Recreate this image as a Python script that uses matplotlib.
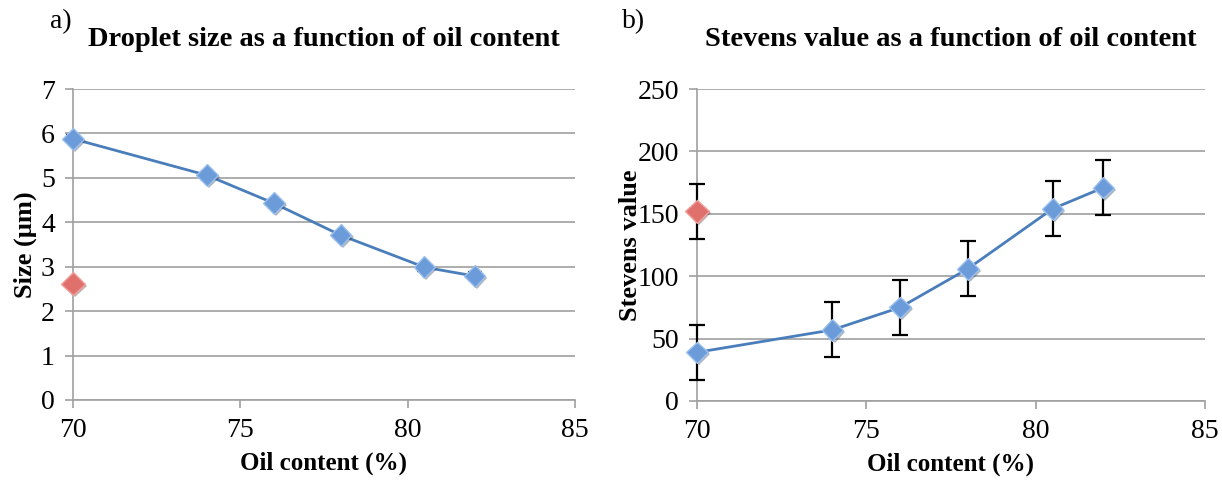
import matplotlib.pyplot as plt
import matplotlib.patheffects as pe

# oil content (%) for the measured series
oil = [70, 74, 76, 78, 80.5, 82]

# a) droplet size (um)
size = [5.88, 5.06, 4.43, 3.71, 2.99, 2.79]
size_err = [0.08, 0.08, 0.08, 0.08, 0.08, 0.08]
size_ref_x = [70]
size_ref = [2.62]

# b) Stevens value
stevens = [39, 57, 75, 106, 154, 171]
stevens_err = [22, 22, 22, 22, 22, 22]
stevens_ref_x = [70]
stevens_ref = [152]
stevens_ref_err = [22]

BLUE_LINE = "#4a7ebb"
BLUE_MARK = "#6b9bd8"
RED_MARK = "#e0706b"
GRID = "#a0a0a0"

plt.rcParams["font.family"] = ["Liberation Serif", "DejaVu Serif"]

fig = plt.figure(figsize=(12.22, 4.84), dpi=100)
ax1 = fig.add_axes([0.0597, 0.1736, 0.4108, 0.6424])
ax2 = fig.add_axes([0.5704, 0.1715, 0.4156, 0.6445])

shadow = [pe.SimplePatchShadow(offset=(1.5, -1.5), alpha=0.35), pe.Normal()]


def style_axes(ax, yticks):
    ax.set_xlim(70, 85)
    ax.set_xticks([70, 75, 80, 85])
    ax.set_ylim(yticks[0], yticks[-1])
    ax.set_yticks(yticks)
    ax.grid(axis="y", color=GRID, linewidth=1.2)
    ax.set_axisbelow(True)
    for s in ["top", "right"]:
        ax.spines[s].set_visible(False)
    for s in ["left", "bottom"]:
        ax.spines[s].set_color(GRID)
        ax.spines[s].set_linewidth(1.2)
    ax.tick_params(axis="both", colors=GRID, length=6, width=1.2,
                   labelcolor="black", labelsize=20)
    ax.tick_params(axis="x", pad=7)
    ax.tick_params(axis="y", pad=7)
    ax.set_xlabel("Oil content (%)", fontsize=18, fontweight="bold", labelpad=6)


def draw_errors(ax, x, y, err, cap):
    eb = ax.errorbar(x, y, yerr=err, fmt="none", ecolor="black",
                     elinewidth=1.6, capsize=cap, capthick=1.6, zorder=3)
    for art in eb.lines[1] + eb.lines[2]:
        art.set_clip_on(False)


def draw_markers(ax, x, y, face, edge, ms):
    ax.plot(x, y, linestyle="none", marker="D", markersize=ms,
            markerfacecolor=face, markeredgecolor=edge, markeredgewidth=1,
            zorder=5, path_effects=shadow, clip_on=False)


# a) droplet size
style_axes(ax1, list(range(0, 8)))
draw_errors(ax1, oil, size, size_err, 5)
ax1.plot(oil, size, color=BLUE_LINE, linewidth=2, zorder=4)
draw_markers(ax1, oil, size, BLUE_MARK, "#9cc0ee", 11)
draw_markers(ax1, size_ref_x, size_ref, RED_MARK, "#f0a09c", 12)
ax1.set_ylabel("Size (µm)", fontsize=19, fontweight="bold", labelpad=3)
ax1.set_title("Droplet size as a function of oil content", fontsize=20.5,
              fontweight="bold", pad=31)

# b) Stevens value
style_axes(ax2, [0, 50, 100, 150, 200, 250])
draw_errors(ax2, oil, stevens, stevens_err, 6)
draw_errors(ax2, stevens_ref_x, stevens_ref, stevens_ref_err, 6)
ax2.plot(oil, stevens, color=BLUE_LINE, linewidth=2, zorder=4)
draw_markers(ax2, oil, stevens, BLUE_MARK, "#9cc0ee", 11)
draw_markers(ax2, stevens_ref_x, stevens_ref, RED_MARK, "#f0a09c", 12)
ax2.set_ylabel("Stevens value", fontsize=19, fontweight="bold", labelpad=-3)
ax2.set_title("Stevens value as a function of oil content", fontsize=20.5,
              fontweight="bold", pad=31)

fig.text(0.041, 0.955, "a)", fontsize=20, va="center")
fig.text(0.509, 0.955, "b)", fontsize=20, va="center")

fig.savefig("out.png", dpi=100)
